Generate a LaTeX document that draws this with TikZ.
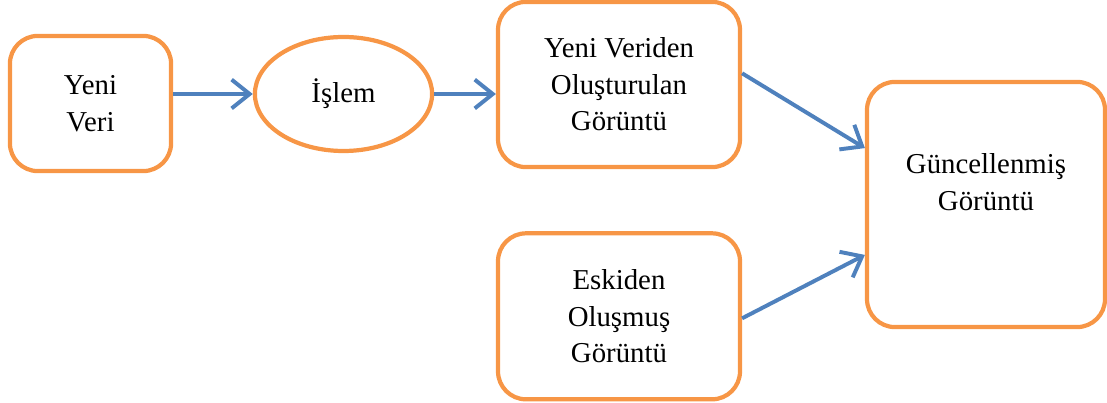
\documentclass[tikz,border=0pt]{standalone}
\usepackage{fontspec}
\setmainfont{Liberation Serif}
\usepackage{tikz}
\usetikzlibrary{arrows.meta,positioning,shapes}
\definecolor{boxorange}{RGB}{247,150,70}
\definecolor{arrowblue}{RGB}{79,129,189}

\begin{document}
\begin{tikzpicture}[
    box/.style={rectangle,draw=boxorange,line width=3pt,rounded corners=0.7cm,align=center,font=\fontsize{20.5}{26}\selectfont},
    oval/.style={ellipse,draw=boxorange,line width=3pt,inner sep=0pt,align=center,font=\fontsize{20.5}{26}\selectfont},
    boxtext/.style={align=center,font=\fontsize{20.5}{26}\selectfont},
    arrow/.style={-{Straight Barb[length=0.45cm,width=0.72cm,line width=2.8pt]},line width=2.8pt,draw=arrowblue}
]
\useasboundingbox (0,0) rectangle (27.675,10.075);

\node[box,minimum width=4.03cm,minimum height=3.38cm] (yeni) at (2.2625,7.4875) {Yeni\\Veri};
\node[oval,minimum width=4.43cm,minimum height=2.85cm] (islem) at (8.5875,7.725) {İşlem};
\node[box,minimum width=6.05cm,minimum height=4.13cm] (yeniden) at (15.475,7.9625) {Yeni Veriden\\Oluşturulan\\Görüntü};
\node[box,minimum width=6.05cm,minimum height=4.15cm,below=1.55cm of yeniden] (eski) {Eskiden\\Oluşmuş\\Görüntü};
\node[box,minimum width=5.95cm,minimum height=6.13cm,
      label={[boxtext,yshift=0.56cm]center:Güncellenmiş\\Görüntü}] (guncel) at (24.65,4.9625) {};

\draw[arrow] (yeni.east |- islem.west) -- (islem.west);
\draw[arrow] (islem.east) -- (islem.east -| yeniden.west);
\draw[arrow] ([yshift=0.28cm]yeniden.east) -- ([yshift=1.41cm]guncel.west);
\draw[arrow] ([yshift=-0.05cm]eski.east) -- ([yshift=-1.26cm]guncel.west);
\end{tikzpicture}
\end{document}
